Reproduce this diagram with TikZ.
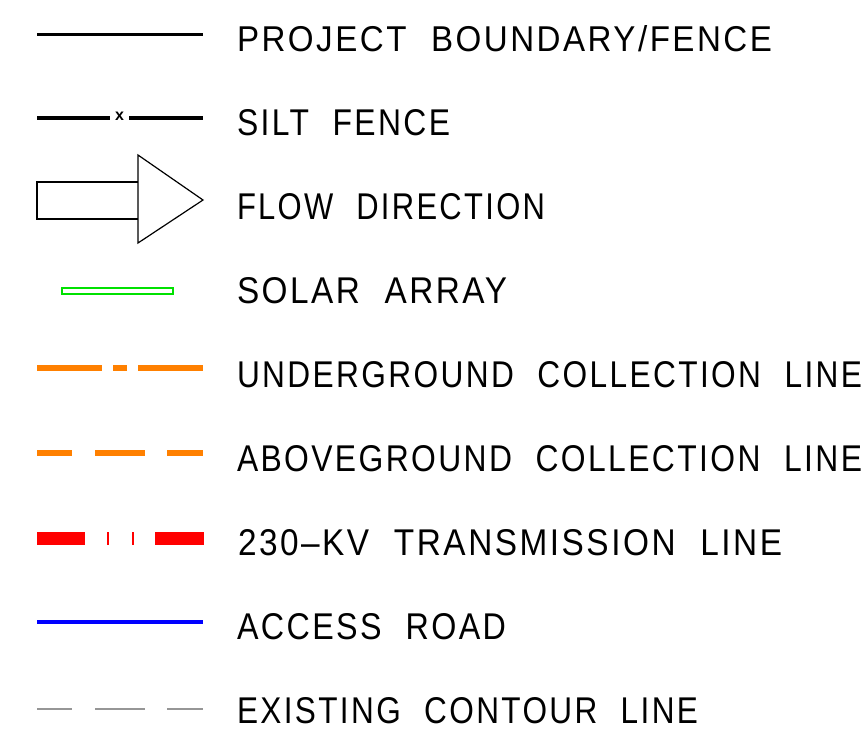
\documentclass[tikz,border=0pt]{standalone}
\usepackage{fontspec}
\setmainfont{Liberation Sans}[FakeStretch=0.8,LetterSpace=6,WordSpace=2.1]
\newfontfamily\smallxfont{Liberation Sans}
\usepackage{graphicx}
\definecolor{cadorange}{RGB}{255,128,0}
\definecolor{cadgreen}{RGB}{0,225,0}
\definecolor{cadred}{RGB}{255,0,0}
\definecolor{cadblue}{RGB}{0,0,255}
\definecolor{cadgray}{RGB}{150,150,150}
\newcommand{\lbltext}[2]{\resizebox{#1pt}{26pt}{#2}}
\begin{document}
\begin{tikzpicture}[x=1pt,y=-1pt,
  lbl/.style={anchor=base west,inner sep=0pt,outer sep=0pt},
  fenceline/.style={line width=3pt,black},
  siltline/.style={line width=4.5pt,black},
  ugline/.style={line width=6pt,cadorange},
  agline/.style={line width=6pt,cadorange},
  txline/.style={line width=13pt,cadred},
  txtick/.style={line width=1.3pt,cadred},
  roadline/.style={line width=4.5pt,cadblue},
  contline/.style={line width=2pt,cadgray},
  symbox/.style={line width=1.2pt,black}]
\useasboundingbox (0,0) rectangle (868,732);
% 1 project boundary
\draw[fenceline] (37,34) -- (203,34);
\node[lbl] (t1) at (237,51) {\lbltext{535}{PROJECT BOUNDARY/FENCE}};
% 2 silt fence
\draw[siltline] (37,118) -- (110,118);
\draw[siltline] (129,118) -- (203,118);
\node[inner sep=0pt,font=\smallxfont\fontsize{16}{16}\selectfont\bfseries] (sx) at (119.5,116.5) {x};
\node[lbl] (t2) at (237,135) {\lbltext{213}{SILT FENCE}};
% 3 flow direction
\draw[symbox] (138,182) -- (37,182) -- (37,219) -- (138,219);
\draw[symbox] (138,155) -- (203,200) -- (138,243) -- cycle;
\node[lbl] (t3) at (237,219) {\lbltext{308}{FLOW DIRECTION}};
% 4 solar array
\draw[cadgreen,line width=1.8pt] (62,288) rectangle (173,294);
\node[lbl] (t4) at (237,303) {\lbltext{270}{SOLAR ARRAY}};
% 5 underground collection
\draw[ugline] (37,368) -- (102,368);
\draw[ugline] (113,368) -- (127,368);
\draw[ugline] (138,368) -- (203,368);
\node[lbl] (t5) at (237,387) {\lbltext{625}{UNDERGROUND COLLECTION LINE}};
% 6 aboveground collection
\draw[agline] (37,453) -- (72,453);
\draw[agline] (95,453) -- (145,453);
\draw[agline] (167,453) -- (203,453);
\node[lbl] (t6) at (237,471) {\lbltext{625}{ABOVEGROUND COLLECTION LINE}};
% 7 transmission
\draw[txline] (37,538.5) -- (85,538.5);
\draw[txline] (155,538.5) -- (204,538.5);
\draw[txtick] (108,532) -- (108,545);
\draw[txtick] (133,532) -- (133,545);
\node[lbl] (t7) at (238,555) {\lbltext{544}{230--KV TRANSMISSION LINE}};
% 8 access road
\draw[roadline] (37,622) -- (203,622);
\node[lbl] (t8) at (237,639) {\lbltext{269}{ACCESS ROAD}};
% 9 contour
\draw[contline] (37,709) -- (72,709);
\draw[contline] (95,709) -- (145,709);
\draw[contline] (167,709) -- (203,709);
\node[lbl] (t9) at (237,723) {\lbltext{461}{EXISTING CONTOUR LINE}};
\end{tikzpicture}
\end{document}
